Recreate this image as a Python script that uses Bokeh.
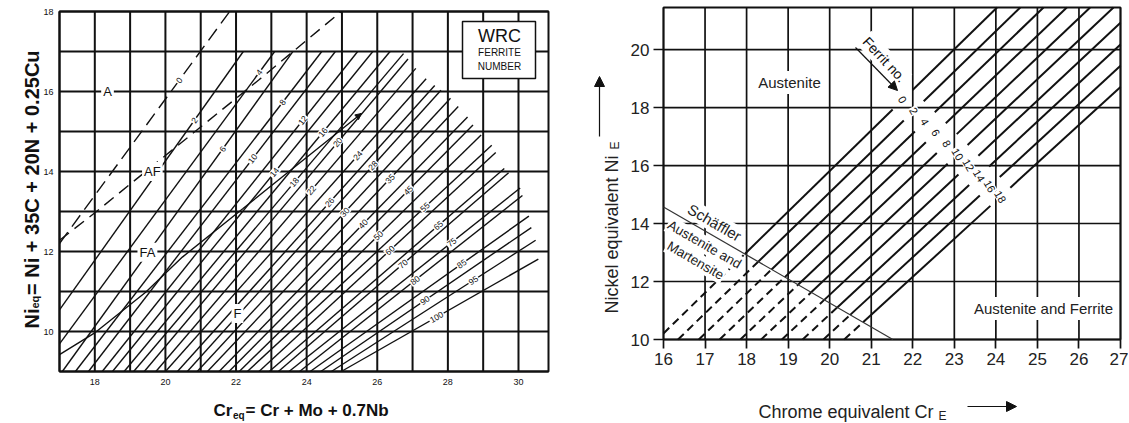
import math
import numpy as np
from bokeh.plotting import figure
from bokeh.layouts import row
from bokeh.models import Range1d, FixedTicker, Arrow, NormalHead
from bokeh.core.properties import value
from bokeh.embed import file_html
from bokeh.resources import INLINE

# ================= data: WRC-1992 ferrite number diagram (left) =================
wrc_fn = [0, 2, 4, 6, 8, 10, 12, 14, 16, 18, 20, 22, 24, 26, 28, 30,
          35, 40, 45, 50, 55, 60, 65, 70, 75, 80, 85, 90, 95, 100]
# lower end of each iso-FN line
wrc_low_cr = [17.0, 17.0, 17.0, 17.08, 17.45, 17.82, 18.21, 18.5, 18.83, 19.1, 19.4, 19.73,
              20.0, 20.34, 20.62, 20.9, 21.19, 21.52, 21.8, 22.09, 22.32, 22.65, 22.94,
              23.2, 23.5, 23.8, 24.1, 24.4, 24.7, 24.98]
wrc_low_ni = [12.2, 10.54, 9.69, 9.0, 9.0, 9.0, 9.0, 9.0, 9.0, 9.0, 9.0, 9.0, 9.0, 9.0, 9.0,
              9.0, 9.0, 9.0, 9.0, 9.0, 9.0, 9.0, 9.0, 9.0, 9.0, 9.0, 9.0, 9.0, 9.0, 9.0]
# position of each FN label (on its line)
wrc_lab_cr = [20.39, 20.82, 22.66, 21.62, 23.32, 22.47, 23.89, 23.09, 24.46, 23.65, 24.88,
              24.13, 25.45, 24.65, 25.88, 25.08, 26.36, 25.6, 26.88, 26.03, 27.35, 26.36,
              27.73, 26.73, 28.11, 27.07, 28.39, 27.35, 28.72, 27.68]
wrc_lab_ni = [16.28, 15.28, 16.48, 14.56, 15.73, 14.32, 15.28, 13.98, 14.98, 13.73, 14.73,
              13.53, 14.4, 13.23, 14.15, 12.98, 13.82, 12.69, 13.53, 12.4, 13.11, 12.03,
              12.65, 11.69, 12.23, 11.28, 11.69, 10.78, 11.28, 10.36]
# upper limit of the iso-FN field
wrc_env_cr = [17.0, 21.95, 22.0, 26.69, 27.26, 28.0, 28.53, 28.76, 29.05, 29.25, 29.6,
              30.0, 30.18, 30.29, 30.38, 30.52, 30.57, 30.6]
wrc_env_ni = [18.0, 18.0, 17.0, 17.0, 16.4, 15.9, 15.4, 15.1, 14.8, 14.65, 14.07,
              13.73, 13.2, 12.9, 12.53, 12.2, 11.73, 9.0]
# phase boundaries
af_fa_cr = [17.0, 18.02, 20.0, 22.66, 24.98]
af_fa_ni = [12.28, 12.98, 14.4, 16.3, 18.0]
fa_f_cr = [17.0, 18.02, 19.44, 20.48, 22.19, 23.5, 25.55]
fa_f_ni = [9.42, 9.98, 10.98, 11.86, 13.07, 14.0, 15.45]
phase_text = ["A", "AF", "FA", "F"]
phase_cr = [18.36, 19.63, 19.49, 22.04]
phase_ni = [16.0, 14.0, 11.98, 10.45]
wrc_xticks = [18, 20, 22, 24, 26, 28, 30]
wrc_yticks = [10, 12, 14, 16, 18]
wrc_grid_cr = [17, 18, 19, 20, 21, 22, 23, 24, 25, 26, 27, 28, 29, 30]
wrc_grid_ni = [9, 10, 11, 12, 13, 14, 15, 16, 17, 18]
WRC_CR = (17.0, 30.85)     # extent of the diagram
WRC_NI = (9.0, 18.0)

# ================= data: Schaeffler / DeLong diagram (right) =================
dl_fn = [0, 2, 4, 6, 8, 10, 12, 14, 16, 18]
dl_base_cr = [15.85, 16.35, 16.85, 17.35, 17.85, 18.35, 18.85, 19.35, 19.85, 20.35]  # Cr_E at Ni_E = 10
dl_slope = [1.40, 1.39, 1.38, 1.37, 1.36, 1.35, 1.34, 1.33, 1.32, 1.31]
schaeffler_cr = [16.0, 21.52]
schaeffler_ni = [14.57, 10.0]
dl_xticks = [16, 17, 18, 19, 20, 21, 22, 23, 24, 25, 26, 27]
dl_yticks = [10, 12, 14, 16, 18, 20]
DL_CR = (16.0, 27.0)
DL_NI = (10.0, 21.45)

# ================= layout (window pixels) =================
SANS = "Liberation Sans"
INK = "#111111"
GREY = "#222222"
H = 422
W1, W2 = 558, 570
# left diagram: Cr 17 at x=59, 30.85 at x=548; Ni 18 at y=11, 9 at y=371
PX1 = 489 / (WRC_CR[1] - WRC_CR[0]); PY1 = 360 / (WRC_NI[1] - WRC_NI[0])
X1R = (WRC_CR[0] - 59 / PX1, WRC_CR[0] + (W1 - 59) / PX1)
Y1R = (WRC_NI[0] - (H - 371) / PY1, WRC_NI[1] + 11 / PY1)
# right diagram: Cr 16 at x=663, 27 at x=1120; Ni 21.45 at y=7, 10 at y=339
PX2 = 457 / (DL_CR[1] - DL_CR[0]); PY2 = 332 / (DL_NI[1] - DL_NI[0])
X2R = (DL_CR[0] - (663 - W1) / PX2, DL_CR[0] + (W1 + W2 - 663) / PX2)
Y2R = (DL_NI[0] - (H - 339) / PY2, DL_NI[0] + 339 / PY2)


def w1x(px): return X1R[0] + px / PX1
def w1y(py): return Y1R[1] - py / PY1
def w2x(px): return X2R[0] + (px - W1) / PX2
def w2y(py): return Y2R[1] - py / PY2


k1 = PY1 / PX1
k2 = PY2 / PX2


def base_fig(w, xr, yr):
    f = figure(width=w, height=H, x_range=Range1d(*xr), y_range=Range1d(*yr),
               output_backend="svg", toolbar_location=None, min_border=0, frame_align=False)
    f.grid.visible = False
    f.outline_line_color = None
    f.background_fill_color = "white"
    f.border_fill_color = "white"
    return f


# ================= left figure =================
p1 = base_fig(W1, X1R, Y1R)
p1.xaxis.fixed_location = WRC_NI[0]
p1.yaxis.fixed_location = WRC_CR[0]
p1.xaxis.ticker = FixedTicker(ticks=wrc_xticks)
p1.yaxis.ticker = FixedTicker(ticks=wrc_yticks)
for ax in (p1.xaxis, p1.yaxis):
    ax.axis_line_color = None
    ax.major_tick_line_color = None
    ax.minor_tick_line_color = None
    ax.major_tick_out = 0
    ax.major_tick_in = 0
    ax.major_label_text_font = SANS
    ax.major_label_text_font_size = "9px"
    ax.major_label_text_color = INK
p1.xaxis.major_label_standoff = 7
p1.yaxis.major_label_standoff = 6

# grid of the diagram
p1.segment(x0=wrc_grid_cr, x1=wrc_grid_cr, y0=WRC_NI[0], y1=WRC_NI[1], line_color=INK, line_width=2)
p1.segment(x0=WRC_CR[0], x1=WRC_CR[1], y0=wrc_grid_ni, y1=wrc_grid_ni, line_color=INK, line_width=2)
p1.quad(left=[WRC_CR[0]], right=[WRC_CR[1]], bottom=[WRC_NI[0]], top=[WRC_NI[1]],
        fill_color=None, line_color=INK, line_width=2)


def wrc_end(x0, y0, xl, yl):
    s = (yl - y0) / (xl - x0)
    xs = np.linspace(xl, 31.0, 6000)
    ys = y0 + s * (xs - x0)
    env = np.interp(xs, wrc_env_cr, wrc_env_ni)
    i = int(np.argmax(ys >= env))
    return xs[i], ys[i]


sx, sy, dx, dy = [], [], [], []
lab_ang = []
for fn, x0, y0, xl, yl in zip(wrc_fn, wrc_low_cr, wrc_low_ni, wrc_lab_cr, wrc_lab_ni):
    xe, ye = wrc_end(x0, y0, xl, yl)
    if fn == 0:
        dx.append([x0, xe]); dy.append([y0, ye])
    else:
        sx.append([x0, xe]); sy.append([y0, ye])
    lab_ang.append(math.atan((yl - y0) / (xl - x0) * k1))

p1.multi_line(sx, sy, line_color=INK, line_width=1.4)
p1.multi_line(dx, dy, line_color=INK, line_width=1.4, line_dash="14 7")
p1.line(af_fa_cr, af_fa_ni, line_color=INK, line_width=1.4, line_dash="12 7")
p1.line(fa_f_cr, fa_f_ni, line_color=INK, line_width=1.4)
p1.add_layout(Arrow(end=NormalHead(size=6, fill_color=INK, line_color=INK),
                    x_start=fa_f_cr[-2], y_start=fa_f_ni[-2],
                    x_end=fa_f_cr[-1], y_end=fa_f_ni[-1], line_alpha=0))

p1.text(x=wrc_lab_cr, y=wrc_lab_ni, text=[str(v) for v in wrc_fn], angle=lab_ang,
        text_font=value(SANS), text_font_size="8.5px", text_color=INK,
        text_align="center", text_baseline="middle",
        background_fill_color="white", padding=1)
p1.text(x=phase_cr, y=phase_ni, text=phase_text, text_font=value(SANS),
        text_font_size="13px", text_color=INK, text_align="center",
        text_baseline="middle", background_fill_color="white", padding=2)

p1.quad(left=[w1x(462)], right=[w1x(535)], top=[w1y(21)], bottom=[w1y(78)],
        fill_color="white", line_color=INK, line_width=1.5)
p1.text(x=[w1x(499)], y=[w1y(35)], text=["WRC"], text_font=value(SANS),
        text_font_size="18px", text_color=INK, text_align="center", text_baseline="middle")
p1.text(x=[w1x(499), w1x(499)], y=[w1y(52), w1y(66)], text=["FERRITE", "NUMBER"],
        text_font=value(SANS), text_font_size="10px", text_color=INK,
        text_align="center", text_baseline="middle")

# axis titles with subscripts
p1.text(x=[w1x(31), w1x(34), w1x(31)], y=[w1y(328), w1y(308), w1y(294.5)],
        text=["Ni", "eq", "= Ni + 35C + 20N + 0.25Cu"],
        text_font_size=["20px", "11px", "20px"], angle=math.pi / 2,
        text_font=value(SANS), text_font_style="bold", text_color=INK,
        text_align="left", text_baseline="alphabetic")
p1.text(x=[w1x(213), w1x(232.5), w1x(245)], y=[w1y(410), w1y(415), w1y(410)],
        text=["Cr", "eq", "= Cr + Mo + 0.7Nb"],
        text_font_size=["17px", "10px", "17px"],
        text_font=value(SANS), text_font_style="bold", text_color=INK,
        text_align="left", text_baseline="alphabetic")

# ================= right figure =================
p2 = base_fig(W2, X2R, Y2R)
p2.xaxis.fixed_location = DL_NI[0]
p2.yaxis.fixed_location = DL_CR[0]
p2.xaxis.ticker = FixedTicker(ticks=dl_xticks)
p2.yaxis.ticker = FixedTicker(ticks=dl_yticks)
for ax, tout in ((p2.xaxis, 9), (p2.yaxis, 10)):
    ax.axis_line_color = None
    ax.major_tick_line_color = INK
    ax.major_tick_line_width = 1.7
    ax.minor_tick_line_color = None
    ax.major_tick_out = tout
    ax.major_tick_in = 0
    ax.major_label_text_font = SANS
    ax.major_label_text_font_size = "17px"
    ax.major_label_text_color = GREY
    ax.major_label_standoff = 4

p2.segment(x0=dl_xticks, x1=dl_xticks, y0=DL_NI[0], y1=DL_NI[1], line_color=INK, line_width=1.7)
p2.segment(x0=DL_CR[0], x1=DL_CR[1], y0=dl_yticks, y1=dl_yticks, line_color=INK, line_width=1.7)
p2.quad(left=[DL_CR[0]], right=[DL_CR[1]], bottom=[DL_NI[0]], top=[DL_NI[1]],
        fill_color=None, line_color=INK, line_width=1.8)

sch_s = (schaeffler_ni[1] - schaeffler_ni[0]) / (schaeffler_cr[1] - schaeffler_cr[0])
lab_p0 = (21.81, 18.19)   # diagonal along which the numbers sit
lab_p1 = (24.11, 14.92)
ld_s = (lab_p1[1] - lab_p0[1]) / (lab_p1[0] - lab_p0[0])
GAP = 0.24
ddx, ddy, ssx, ssy, nlx, nly = [], [], [], [], [], []
for b, s in zip(dl_base_cr, dl_slope):
    f = lambda c: DL_NI[0] + s * (c - b)
    c0 = max(DL_CR[0], b)
    cs = (schaeffler_ni[0] - sch_s * schaeffler_cr[0] - DL_NI[0] + s * b) / (s - sch_s)
    cl = (lab_p0[1] - ld_s * lab_p0[0] - DL_NI[0] + s * b) / (s - ld_s)
    ce = min(b + (DL_NI[1] - DL_NI[0]) / s, DL_CR[1])
    ddx.append([c0, cs]); ddy.append([f(c0), f(cs)])
    ssx.append([cs, cl - GAP]); ssy.append([f(cs), f(cl - GAP)])
    ssx.append([cl + GAP, ce]); ssy.append([f(cl + GAP), f(ce)])
    nlx.append(cl); nly.append(f(cl))

p2.multi_line(ddx, ddy, line_color=INK, line_width=2, line_dash="8 5")
p2.multi_line(ssx, ssy, line_color=INK, line_width=2)

p2.text(x=nlx, y=nly, text=[str(v) for v in dl_fn], angle=-1.05,
        text_font=value(SANS), text_font_size="11px", text_color=INK,
        text_align="center", text_baseline="middle", background_fill_color="white", padding=1)
p2.text(x=[w2x(884)], y=[w2y(59)], text=["Ferrit no."], angle=-0.82,
        text_font=value(SANS), text_font_size="14px", text_color=INK,
        text_align="center", text_baseline="middle", background_fill_color="white", padding=2)
p2.add_layout(Arrow(end=NormalHead(size=9, fill_color=INK, line_color=INK),
                    x_start=w2x(855), y_start=w2y(47), x_end=w2x(897), y_end=w2y(90),
                    line_color=INK, line_width=1.2))
p2.text(x=[w2x(789), w2x(1043)], y=[w2y(82), w2y(308)],
        text=["Austenite", "Austenite and Ferrite"],
        text_font=value(SANS), text_font_size="15px", text_color=GREY,
        text_align="center", text_baseline="middle", background_fill_color="white", padding=3)
sch_ang = math.atan(sch_s * k2)
p2.text(x=[w2x(714)], y=[w2y(222)], text=["Schäffler"], angle=sch_ang,
        text_font=value(SANS), text_font_size="15px", text_color=GREY,
        text_align="center", text_baseline="middle", background_fill_color="white", padding=1)
p2.text(x=[w2x(704), w2x(695)], y=[w2y(244), w2y(260)], text=["Austenite and", "Martensite"],
        angle=sch_ang, text_font=value(SANS), text_font_size="13.5px", text_color=GREY,
        text_align="center", text_baseline="middle", background_fill_color="white", padding=1)
p2.line(schaeffler_cr, schaeffler_ni, line_color="#333333", line_width=1.2)

# axis titles with subscripts and arrows
p2.text(x=[w2x(611), w2x(614)], y=[w2y(313), w2y(149)],
        text=["Nickel equivalent  Ni", "E"], text_font_size=["18px", "12px"],
        angle=math.pi / 2, text_font=value(SANS), text_color=GREY,
        text_align="left", text_baseline="alphabetic")
p2.add_layout(Arrow(end=NormalHead(size=10, fill_color=INK, line_color=INK),
                    x_start=w2x(599), y_start=w2y(136), x_end=w2x(599), y_end=w2y(76),
                    line_color=INK, line_width=1.2))
p2.text(x=[w2x(758), w2x(938)], y=[w2y(411), w2y(415)],
        text=["Chrome equivalent  Cr", "E"], text_font_size=["18px", "12px"],
        text_font=value(SANS), text_color=GREY,
        text_align="left", text_baseline="alphabetic")
p2.add_layout(Arrow(end=NormalHead(size=10, fill_color=INK, line_color=INK),
                    x_start=w2x(967), y_start=w2y(406), x_end=w2x(1016), y_end=w2y(406),
                    line_color=INK, line_width=1.2))

layout = row(p1, p2)
open("out.html", "w").write(file_html(layout, INLINE))
